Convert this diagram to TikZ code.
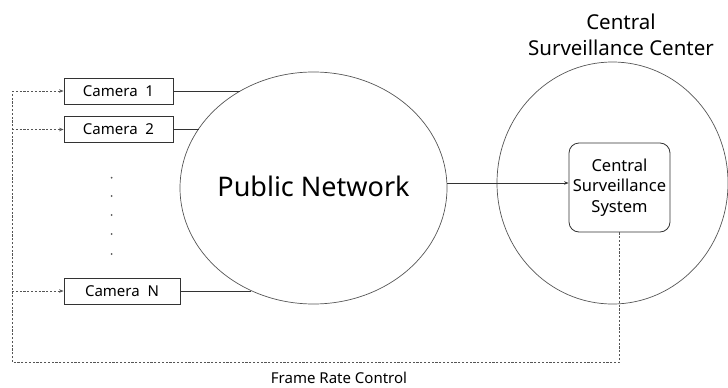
\documentclass[tikz,border=0pt]{standalone}
\usepackage{fontspec}
\setmainfont{Noto Sans}
\usetikzlibrary{shapes.geometric,arrows.meta}
\definecolor{edge}{HTML}{555555}
\definecolor{boxedge}{HTML}{333333}
\tikzset{
  cambox/.style={draw=boxedge, line width=0.8pt, minimum height=26pt, inner sep=0pt, font=\fontsize{15}{17}\selectfont},
  cloud/.style={ellipse, draw=edge, line width=0.7pt, inner sep=0pt},
  link/.style={draw=boxedge, line width=0.8pt},
  fb/.style={draw=edge, line width=0.8pt, dash pattern=on 2.2pt off 1.6pt},
  tip/.style={-{Stealth[length=4.5pt,width=3.5pt]}},
  vdot/.style={circle, fill=edge, inner sep=0pt, minimum size=2pt}
}
\begin{document}
\begin{tikzpicture}[x=1pt,y=-1pt]
  \useasboundingbox (0,0) rectangle (728,388);

  % network clouds
  \node[cloud, minimum width=267pt, minimum height=232pt] (net) at (313.5,188) {};
  \node[font=\fontsize{27}{30}\selectfont] (netlabel) at (313.5,186) {Public Network};
  \node[cloud, minimum width=231pt, minimum height=242pt] (center) at (612.5,183) {};
  \node[align=center, font=\fontsize{20.5}{26}\selectfont] (centerlabel) at (621,35) {Central\\Surveillance Center};

  % cameras
  \node[cambox, minimum width=109pt] (cam1) at (118.5,91) {Camera\ \ 1};
  \node[cambox, minimum width=109pt] (cam2) at (118.5,129.5) {Camera\ \ 2};
  \node[cambox, minimum width=116pt] (camN) at (122,291) {Camera\ \ N};

  % vertical ellipsis between cameras
  \foreach \i/\y in {1/177.7,2/196,3/215,4/234,5/254}
    \node[vdot] (dot\i) at (111.7,\y) {};

  % central system
  \node[draw=boxedge, line width=0.8pt, rounded corners=10pt, minimum width=101pt, minimum height=89pt,
        align=center, inner sep=0pt, font=\fontsize{16.5}{20.5}\selectfont] (csys) at (619.5,187.5)
        {Central\\Surveillance\\System};

  % camera uplinks, ending on the cloud outline
  \coordinate (e1) at (240,91);
  \coordinate (e2) at (198.6,129.5);
  \coordinate (eN) at (251,291);
  \draw[link] (cam1.east) -- (e1);
  \draw[link] (cam2.east) -- (e2);
  \draw[link] (camN.east) -- (eN);

  % network to central system
  \coordinate (netout) at (447,183);
  \draw[link, tip] (netout) -- (csys.west |- netout);

  % frame rate control feedback loop
  \coordinate (bl) at (12,362);
  \coordinate (tl) at (12,91);
  \draw[fb] (csys.south) |- (bl) -- (tl);
  \draw[fb, tip] (tl) -- (cam1.west);
  \draw[fb, tip] (tl |- cam2) -- (cam2.west);
  \draw[fb, tip] (tl |- camN) -- (camN.west);
  \node[font=\fontsize{15}{17}\selectfont, inner sep=0pt] (frc) at (339,378) {Frame Rate Control};
\end{tikzpicture}
\end{document}
